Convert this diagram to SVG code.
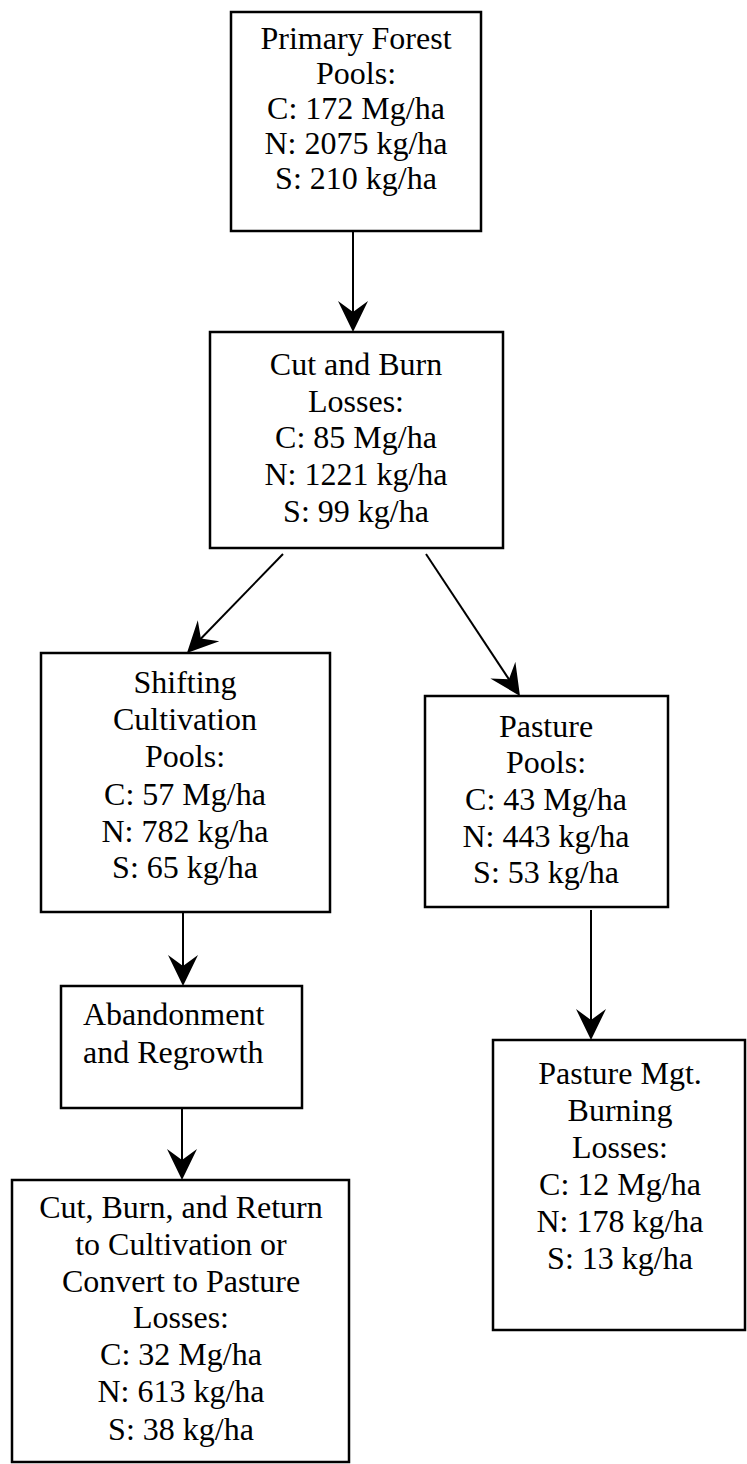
<svg xmlns="http://www.w3.org/2000/svg" width="747" height="1464" viewBox="0 0 747 1464">
<style>
.box{fill:#fff;stroke:#000;stroke-width:2.5}
.t{font-family:"Liberation Serif","Times New Roman",serif;font-size:32px;fill:#000;text-anchor:middle}
.ts{font-family:"Liberation Serif","Times New Roman",serif;font-size:32px;fill:#000;text-anchor:start}
.c{stroke:#000;stroke-width:2;fill:none;marker-end:url(#ah)}
</style>
<defs>
<marker id="ah" viewBox="-31 -16 32 32" refX="-15" refY="0" markerWidth="32" markerHeight="32" markerUnits="userSpaceOnUse" orient="auto">
<path d="M0,0 L-31,-15 L-20,0 L-31,15 Z" fill="#000"/>
</marker>
</defs>
<rect width="747" height="1464" fill="#fff"/>
<g id="connectors">
<line class="c" x1="353" y1="232" x2="353" y2="317"/>
<line class="c" x1="283" y1="554" x2="197.4" y2="642.2"/>
<line class="c" x1="426" y1="554" x2="511.7" y2="683.5"/>
<line class="c" x1="183" y1="913" x2="183" y2="971"/>
<line class="c" x1="182" y1="1109" x2="182" y2="1165"/>
<line class="c" x1="591" y1="910" x2="591" y2="1025"/>
</g>
<g id="primary-forest">
<rect class="box" x="231" y="12" width="250" height="219"/>
<text class="t" x="356" y="49">Primary Forest</text>
<text class="t" x="356" y="84">Pools:</text>
<text class="t" x="356" y="119">C: 172 Mg/ha</text>
<text class="t" x="356" y="154">N: 2075 kg/ha</text>
<text class="t" x="356" y="189">S: 210 kg/ha</text>
</g>
<g id="cut-and-burn">
<rect class="box" x="210" y="332" width="293" height="216"/>
<text class="t" x="356" y="375">Cut and Burn</text>
<text class="t" x="356" y="412">Losses:</text>
<text class="t" x="356" y="448">C: 85 Mg/ha</text>
<text class="t" x="356" y="485">N: 1221 kg/ha</text>
<text class="t" x="356" y="522">S: 99 kg/ha</text>
</g>
<g id="shifting-cultivation">
<rect class="box" x="41" y="653" width="289" height="259"/>
<text class="t" x="185" y="693">Shifting</text>
<text class="t" x="185" y="730">Cultivation</text>
<text class="t" x="185" y="767">Pools:</text>
<text class="t" x="185" y="805">C: 57 Mg/ha</text>
<text class="t" x="185" y="842">N: 782 kg/ha</text>
<text class="t" x="185" y="878">S: 65 kg/ha</text>
</g>
<g id="pasture">
<rect class="box" x="425" y="696" width="243" height="211"/>
<text class="t" x="546" y="737">Pasture</text>
<text class="t" x="546" y="773">Pools:</text>
<text class="t" x="546" y="810">C: 43 Mg/ha</text>
<text class="t" x="546" y="847">N: 443 kg/ha</text>
<text class="t" x="546" y="883">S: 53 kg/ha</text>
</g>
<g id="abandonment">
<rect class="box" x="61" y="986" width="241" height="122"/>
<text class="ts" x="83" y="1025">Abandonment</text>
<text class="ts" x="83" y="1063">and Regrowth</text>
</g>
<g id="cut-burn-return">
<rect class="box" x="12" y="1180" width="337" height="282"/>
<text class="t" x="181" y="1218">Cut, Burn, and Return</text>
<text class="t" x="181" y="1255">to Cultivation or</text>
<text class="t" x="181" y="1292">Convert to Pasture</text>
<text class="t" x="181" y="1328">Losses:</text>
<text class="t" x="181" y="1365">C: 32 Mg/ha</text>
<text class="t" x="181" y="1402">N: 613 kg/ha</text>
<text class="t" x="181" y="1440">S: 38 kg/ha</text>
</g>
<g id="pasture-mgt">
<rect class="box" x="493" y="1040" width="252" height="290"/>
<text class="t" x="620" y="1084">Pasture Mgt.</text>
<text class="t" x="620" y="1121">Burning</text>
<text class="t" x="620" y="1158">Losses:</text>
<text class="t" x="620" y="1195">C: 12 Mg/ha</text>
<text class="t" x="620" y="1232">N: 178 kg/ha</text>
<text class="t" x="620" y="1269">S: 13 kg/ha</text>
</g>
</svg>
